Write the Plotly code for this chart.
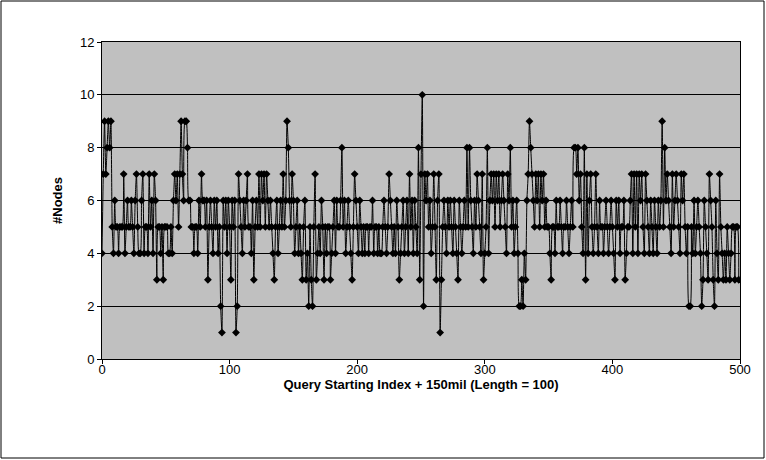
import plotly.graph_objects as go

nodes = [
    4,7,9,7,8,9,8,9,5,4,6,5,5,4,5,5,5,7,4,5,
    6,5,5,6,5,4,6,7,5,4,4,6,7,4,5,5,4,7,5,6,
    4,7,6,3,5,5,4,5,3,5,5,5,4,4,5,4,6,7,6,7,
    5,7,9,7,6,9,9,8,6,6,5,5,4,5,5,4,6,5,7,6,
    6,5,6,3,5,6,5,4,6,5,6,4,5,2,1,6,5,6,4,6,
    5,3,6,5,6,1,2,7,6,5,4,6,5,6,7,5,5,4,6,3,
    5,6,5,7,5,7,6,7,5,7,6,5,6,5,4,3,5,6,4,5,
    6,5,7,5,6,9,8,6,5,7,6,4,5,6,4,5,4,3,5,6,
    3,4,2,5,3,2,5,7,3,4,5,4,6,5,3,5,4,5,5,3,
    4,5,6,4,6,5,5,6,8,5,6,4,5,6,5,4,3,5,7,6,
    5,4,6,5,4,5,4,5,5,4,5,5,6,4,5,5,4,5,4,4,
    5,6,5,4,5,7,6,5,4,5,4,6,5,3,4,5,6,4,5,6,
    4,7,5,6,4,6,5,4,8,3,7,10,2,7,6,7,5,6,4,5,
    7,5,3,6,7,1,3,5,6,5,4,6,5,6,5,4,6,5,4,3,
    6,5,4,5,6,5,8,5,8,6,5,4,6,5,7,6,5,4,7,3,
    4,5,8,4,6,7,6,7,5,7,6,7,5,6,7,6,5,4,7,6,
    8,5,6,4,5,6,4,2,2,3,2,4,3,6,7,9,8,7,6,5,
    7,6,7,5,7,6,7,5,6,5,5,4,3,5,5,4,6,5,5,6,
    5,4,5,5,6,5,4,5,6,5,8,8,7,8,6,7,5,4,8,3,
    7,4,6,7,5,4,5,7,5,4,6,5,5,4,5,6,5,4,5,6,
    5,4,3,6,5,6,4,5,5,6,3,4,5,5,6,7,4,7,5,7,
    4,7,6,7,5,4,7,6,5,4,6,5,4,6,5,4,6,5,6,9,
    5,8,6,7,6,5,4,7,5,6,7,6,5,4,7,6,7,5,4,5,
    2,2,5,4,6,4,5,6,5,4,2,3,6,5,4,3,7,6,5,3,
    2,6,4,3,7,5,4,3,4,3,5,4,3,4,5,5,3,5,5,3,
]
index = list(range(len(nodes)))

x_title = "Query Starting Index + 150mil (Length = 100)"
y_title = "#Nodes"

W, H = 766, 460
L, R, T, B = 102, 26, 42, 101
pw, ph = W - L - R, H - T - B

fig = go.Figure()
fig.add_trace(go.Scatter(
    x=index, y=nodes, mode="lines+markers",
    line=dict(color="black", width=1, shape="spline", smoothing=0.6),
    marker=dict(symbol="diamond", size=6, color="black"),
    showlegend=False, hoverinfo="skip",
))

fam = "Liberation Sans, Arial, sans-serif"
axis_font = dict(family=fam, size=13, color="black")
fig.update_layout(
    width=W, height=H,
    margin=dict(l=L, r=R, t=T, b=B, pad=0),
    paper_bgcolor="white", plot_bgcolor="#C0C0C0",
    font=axis_font,
    xaxis=dict(
        range=[0, 500], tickvals=[0, 100, 200, 300, 400, 500],
        showgrid=False, zeroline=False,
        showline=True, linecolor="black", linewidth=1, mirror=True,
        ticks="outside", ticklen=4, tickcolor="black", tickwidth=1,
        ticklabelstandoff=-6,
        tickfont=axis_font,
        title=dict(text="<b>" + x_title + "</b>", font=dict(family=fam, size=13), standoff=4),
    ),
    yaxis=dict(
        range=[0, 12], tickvals=[0, 2, 4, 6, 8, 10, 12],
        showgrid=True, gridcolor="black", gridwidth=1, zeroline=False,
        showline=True, linecolor="black", linewidth=1, mirror=True,
        ticks="outside", ticklen=4, tickcolor="black", tickwidth=1,
        tickfont=axis_font,
        title=dict(text="<b>" + y_title + "</b>", font=dict(family=fam, size=13), standoff=14),
    ),
)

# outer chart border
fig.add_shape(
    type="rect", xref="paper", yref="paper",
    x0=-(L - 1) / pw, x1=1 + (R - 2) / pw,
    y0=-(B - 2) / ph, y1=1 + (T - 1) / ph,
    line=dict(color="black", width=1), fillcolor="rgba(0,0,0,0)", layer="below",
)

fig.write_html(
    "out.html",
    config={"displayModeBar": False},
    post_script="document.body.style.margin='0';document.body.style.overflow='hidden';",
)
